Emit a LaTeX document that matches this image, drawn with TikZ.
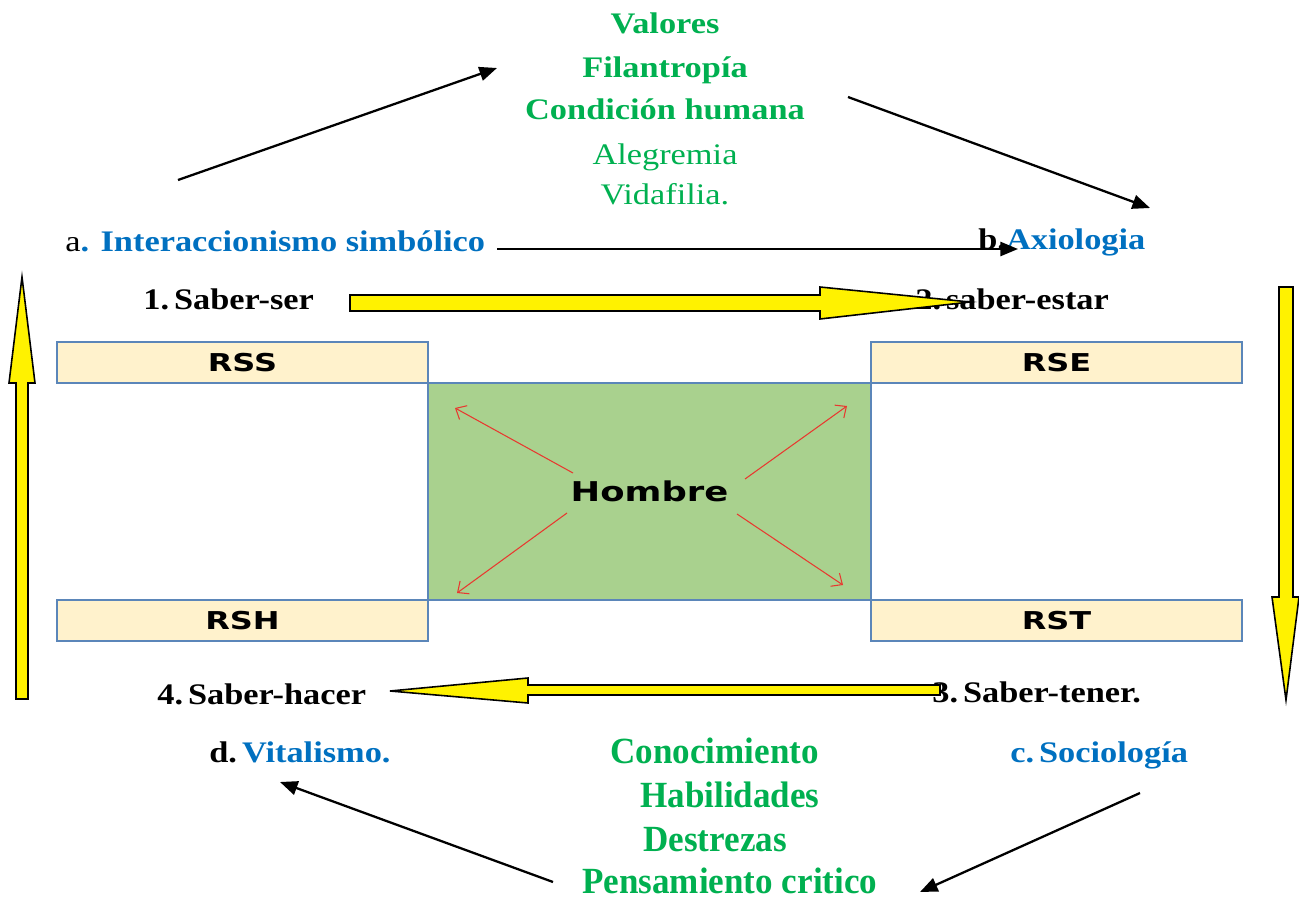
\documentclass[tikz,border=0pt]{standalone}
\usepackage{fontspec}
\setmainfont{Liberation Serif}[FakeStretch=1.15]
\newfontfamily\narrowserif{Liberation Serif}[FakeStretch=0.95]
\newfontfamily\boxsans{DejaVu Sans}[FakeStretch=1.3]
\usepackage{tikz}
\usetikzlibrary{arrows.meta, positioning, calc}
\definecolor{txtgreen}{HTML}{00B050}
\definecolor{txtblue}{HTML}{0070C0}
\definecolor{boxblue}{HTML}{5B86B9}
\definecolor{boxfill}{HTML}{FFF2CC}
\definecolor{hombrefill}{HTML}{A9D18E}
\definecolor{rayred}{HTML}{E8382F}

\begin{document}
\begin{tikzpicture}[
    x=0.02cm, y=-0.02cm,
    rs/.style={draw=boxblue, line width=0.7pt, fill=boxfill, minimum width=7.42cm, minimum height=0.82cm, inner sep=0pt, font=\boxsans\fontsize{14}{16}\selectfont\bfseries},
    lbl/.style={inner sep=0pt, anchor=base west, font=\fontsize{17}{20}\selectfont\bfseries},
    val/.style={inner sep=0pt, anchor=base, text=txtgreen, font=\fontsize{17}{20}\selectfont\bfseries},
    cond/.style={inner sep=0pt, anchor=base west, text=txtgreen, font=\narrowserif\fontsize{21}{24}\selectfont\bfseries},
    flecha/.style={line width=1.3pt, -{Triangle[length=10pt, width=8pt]}},
    rayo/.style={draw=rayred, line width=0.6pt, -{Straight Barb[length=5pt, width=9pt]}},
    bloque/.style={draw=black, line width=0.9pt, fill=yellow, line join=miter}
]
    \useasboundingbox (0,0) rectangle (1299,899);

    \node[val] (valores) at (665,33) {Valores};
    \node[val] (filan) at (665,77) {Filantropía};
    \node[val] (condic) at (665,119) {Condición humana};
    \node[val, font=\fontsize{17}{20}\selectfont] (alegre) at (665,164) {Alegremia};
    \node[val, font=\fontsize{17}{20}\selectfont] (vida) at (665,204) {Vidafilia.};

    \node[lbl] (inter) at (65,251) {\mdseries a\textcolor{txtblue}{\bfseries. Interaccionismo simbólico}};
    \node[lbl] (axio) at (978,249) {b.\textcolor{txtblue}{Axiologia}};
    \node[lbl] (ser) at (143,309) {1.\,Saber-ser};
    \node[lbl] (estar) at (915,309) {2.\,saber-estar};
    \node[lbl] (hacer) at (157,704) {4.\,Saber-hacer};
    \node[lbl] (tener) at (932,702) {3.\,Saber-tener.};
    \node[lbl] (vital) at (209,762) {d.\,\textcolor{txtblue}{Vitalismo.}};
    \node[lbl, text=txtblue] (socio) at (1010,762) {c.\,Sociología};

    \node[cond] (conoc) at (610,763) {Conocimiento};
    \node[cond] (habil) at (640,807) {Habilidades};
    \node[cond] (destr) at (643,851) {Destrezas};
    \node[cond] (pensa) at (582,893) {Pensamiento critico};

    \node[draw=boxblue, line width=0.7pt, fill=hombrefill, minimum width=8.86cm, minimum height=4.34cm, inner sep=0pt,
          font=\boxsans\fontsize{15.5}{18}\selectfont\bfseries] (hombre) at (649.5,491.5) {Hombre};
    \node[rs] (rss) at (242.5,362.5) {RSS};
    \node[rs] (rse) at (1056.5,362.5) {RSE};
    \node[rs] (rsh) at (242.5,620.5) {RSH};
    \node[rs] (rst) at (1056.5,620.5) {RST};

    \foreach \nm/\sx/\sy/\ex/\ey in {nw/573/473/455/408, ne/745/479/847/406, sw/567/513/457/593, se/737/514/843/585}{
        \coordinate (\nm a) at (\sx,\sy);
        \coordinate (\nm b) at (\ex,\ey);
        \draw[rayo] (\nm a) -- (\nm b);
    }

    \coordinate (upA) at (178,180);
    \coordinate (upB) at (497,68);
    \coordinate (dnA) at (848,97);
    \coordinate (dnB) at (1150,208);
    \coordinate (midA) at (497,249);
    \coordinate (midB) at (1018,249);
    \coordinate (loA) at (1140,793);
    \coordinate (loB) at (920,892);
    \coordinate (lpA) at (553,882);
    \coordinate (lpB) at (280,782);
    \draw[flecha] (upA) -- (upB);
    \draw[flecha] (dnA) -- (dnB);
    \draw[flecha] (midA) -- (midB);
    \draw[flecha] (loA) -- (loB);
    \draw[flecha] (lpA) -- (lpB);

    \draw[bloque] (350,295) -- (820,295) -- (820,287) -- (970,302) -- (820,319) -- (820,311) -- (350,311) -- cycle;
    \draw[bloque] (940,685) -- (528,685) -- (528,678) -- (390,691) -- (528,703) -- (528,695) -- (940,695) -- cycle;
    \draw[bloque] (1279,287) -- (1279,597) -- (1272,597) -- (1286,700) -- (1299,597) -- (1293,597) -- (1293,287) -- cycle;
    \draw[bloque] (16,699) -- (16,383) -- (9,383) -- (22,277) -- (35,383) -- (28,383) -- (28,699) -- cycle;
\end{tikzpicture}
\end{document}
